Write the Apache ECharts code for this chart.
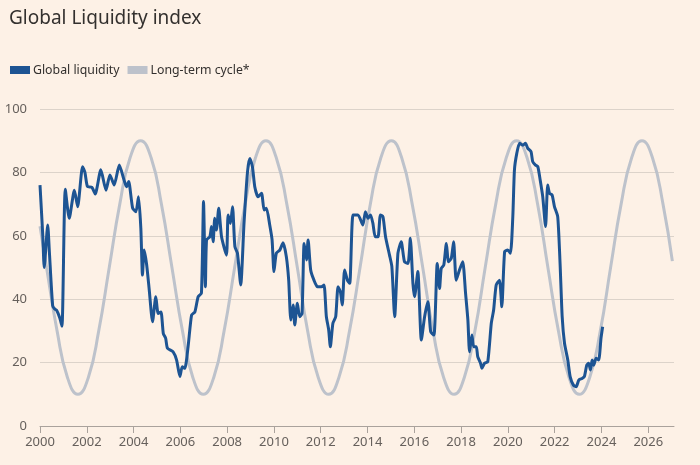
<!DOCTYPE html>
<html>
<head>
<meta charset="utf-8">
<script src="https://cdn.jsdelivr.net/npm/echarts@6/dist/echarts.min.js"></script>
<style>
html,body{margin:0;padding:0;background:#fdf1e6;}
#chart{width:700px;height:465px;}
</style>
</head>
<body>
<div id="chart"></div>
<script>
// ---- Data ----
const title = "Global Liquidity index";
const seriesNames = ["Global liquidity", "Long-term cycle*"];
const xTickYears = [2000, 2002, 2004, 2006, 2008, 2010, 2012, 2014, 2016, 2018, 2020, 2022, 2024, 2026];
const yTicks = [0, 20, 40, 60, 80, 100];

const liquidityYears = [
  2000.00, 2000.12, 2000.18, 2000.33, 2000.40, 2000.54, 2000.62, 2000.71, 2000.85, 2000.94,
  2001.08, 2001.25, 2001.47, 2001.61, 2001.82, 2001.92, 2002.03, 2002.22, 2002.36, 2002.60,
  2002.82, 2002.99, 2003.17, 2003.39, 2003.60, 2003.70, 2003.79, 2003.96, 2004.10, 2004.21,
  2004.31, 2004.38, 2004.45, 2004.56, 2004.67, 2004.81, 2004.95, 2005.05, 2005.17, 2005.27,
  2005.37, 2005.45, 2005.69, 2005.84, 2005.98, 2006.08, 2006.19, 2006.33, 2006.48, 2006.62,
  2006.76, 2006.90, 2006.99, 2007.07, 2007.12, 2007.26, 2007.33, 2007.40, 2007.47, 2007.54,
  2007.64, 2007.76, 2007.97, 2008.04, 2008.14, 2008.23, 2008.33, 2008.44, 2008.58, 2008.72,
  2008.87, 2008.97, 2009.08, 2009.18, 2009.32, 2009.47, 2009.58, 2009.68, 2009.82, 2009.92,
  2010.00, 2010.10, 2010.25, 2010.39, 2010.53, 2010.63, 2010.72, 2010.82, 2010.89, 2011.00,
  2011.10, 2011.20, 2011.29, 2011.39, 2011.46, 2011.57, 2011.71, 2011.86, 2012.03, 2012.14,
  2012.24, 2012.34, 2012.41, 2012.52, 2012.64, 2012.74, 2012.84, 2012.92, 2013.02, 2013.14,
  2013.24, 2013.38, 2013.59, 2013.80, 2013.91, 2014.02, 2014.13, 2014.23, 2014.33, 2014.45,
  2014.55, 2014.66, 2014.77, 2014.94, 2015.04, 2015.16, 2015.30, 2015.44, 2015.58, 2015.73,
  2015.83, 2015.94, 2016.01, 2016.15, 2016.30, 2016.44, 2016.58, 2016.70, 2016.84, 2016.98,
  2017.08, 2017.15, 2017.26, 2017.37, 2017.46, 2017.58, 2017.68, 2017.79, 2017.93, 2018.07,
  2018.19, 2018.29, 2018.36, 2018.46, 2018.54, 2018.65, 2018.71, 2018.83, 2018.89, 2019.00,
  2019.14, 2019.29, 2019.39, 2019.50, 2019.64, 2019.74, 2019.86, 2019.99, 2020.11, 2020.21,
  2020.28, 2020.38, 2020.50, 2020.64, 2020.75, 2020.85, 2020.99, 2021.06, 2021.18, 2021.28,
  2021.38, 2021.49, 2021.61, 2021.70, 2021.78, 2021.89, 2021.99, 2022.13, 2022.23, 2022.32,
  2022.42, 2022.56, 2022.66, 2022.80, 2022.92, 2023.03, 2023.17, 2023.27, 2023.37, 2023.45,
  2023.53, 2023.60, 2023.67, 2023.77, 2023.88, 2023.98, 2024.05
];
const liquidityValues = [
  76, 60, 50, 63.4, 55, 38, 37, 36.5, 34, 31.5,
  74.7, 65.5, 74.4, 69.2, 81.8, 80, 75.5, 75.3, 73.2, 80.8,
  74.4, 79.2, 76, 82.3, 77.4, 75.5, 77.1, 68.7, 67.6, 72.3,
  62.4, 47.6, 55.5, 50.8, 42.9, 32.9, 40.8, 35.5, 36, 29.2,
  27.7, 24.5, 23.4, 20.8, 15.6, 18.7, 18.2, 25, 35, 36,
  40.8, 41.9, 70.8, 43.9, 58.7, 59.7, 62.9, 58.1, 65.5, 61.8,
  68.7, 59.7, 53.9, 66.6, 63.9, 69.2, 56.6, 54.5, 44.5, 63.9,
  80.2, 84.4, 81.8, 75.5, 72.3, 73.4, 68.1, 68.7, 63.4, 58.7,
  48.7, 54.5, 55.5, 57.8, 53.4, 46, 33.4, 38.2, 31.9, 38.7,
  34.5, 35.5, 57.6, 52.4, 58.7, 49.2, 46, 43.9, 43.9, 44.5,
  34.5, 30.3, 25, 32.4, 34.5, 43.9, 42.4, 38.2, 49.2, 46,
  45, 66.6, 66.6, 63.4, 67.6, 65.5, 66.6, 63.9, 59.7, 59.7,
  66.6, 66, 59.7, 53.9, 50.3, 34.5, 54.5, 58.1, 51.8, 51.3,
  59.2, 45, 40.8, 48.7, 27.1, 34.5, 39.2, 29.7, 28.7, 51.3,
  43.4, 49.7, 50.8, 57.6, 51.8, 52.9, 58.1, 46, 49.2, 51.8,
  41.9, 33.4, 23.4, 28.7, 25, 25, 21.9, 19.8, 18.2, 19.8,
  20.3, 32.4, 36.6, 44.5, 46, 37.6, 55, 55.5, 54.5, 66,
  80.8, 86, 89.2, 88.6, 89.2, 87.6, 86.5, 83.4, 82.3, 81.8,
  77.6, 72.3, 62.9, 76, 73.4, 72.9, 69.2, 66, 51.3, 34.5,
  26.1, 20.8, 15.6, 12.9, 12.4, 14.5, 15, 15.6, 19.2, 19.8,
  17.7, 20.8, 19.2, 21.4, 20.8, 27.7, 31.3
];

const cycleYears = [
  2000.00, 2000.28, 2000.73, 2001.17, 2001.62, 2002.07, 2002.51, 2002.96, 2003.41, 2003.85,
  2004.30, 2004.75, 2005.19, 2005.64, 2006.09, 2006.53, 2006.98, 2007.43, 2007.87, 2008.32,
  2008.77, 2009.21, 2009.66, 2010.10, 2010.55, 2011.00, 2011.44, 2011.89, 2012.34, 2012.78,
  2013.23, 2013.68, 2014.12, 2014.57, 2015.02, 2015.46, 2015.91, 2016.36, 2016.80, 2017.25,
  2017.70, 2018.14, 2018.59, 2019.03, 2019.48, 2019.93, 2020.37, 2020.82, 2021.27, 2021.71,
  2022.16, 2022.61, 2023.05, 2023.50, 2023.95, 2024.39, 2024.84, 2025.29, 2025.73, 2026.18,
  2026.63, 2027.03
];
const cycleValues = [
  63, 50, 30, 15.4, 10, 15.4, 30, 50, 70, 84.6,
  90, 84.6, 70, 50, 30, 15.4, 10, 15.4, 30, 50,
  70, 84.6, 90, 84.6, 70, 50, 30, 15.4, 10, 15.4,
  30, 50, 70, 84.6, 90, 84.6, 70, 50, 30, 15.4,
  10, 15.4, 30, 50, 70, 84.6, 90, 84.6, 70, 50,
  30, 15.4, 10, 15.4, 30, 50, 70, 84.6, 90, 84.6,
  70, 52
];

// ---- Styling ----
const BG = '#fdf1e6';
const BLUE = '#1d5493';
const GREY = '#bdc2cb';
const TEXT = '#66605c';
const FONT = '"Noto Sans", sans-serif';

const liqData = liquidityYears.map((x, i) => [x, liquidityValues[i]]);
const cycData = cycleYears.map((x, i) => [x, cycleValues[i]]);

const chart = echarts.init(document.getElementById('chart'), null, {renderer: 'canvas'});
chart.setOption({
  backgroundColor: BG,
  animation: false,
  title: {
    text: title,
    left: 4, top: 4,
    textStyle: {fontFamily: FONT, fontSize: 19, fontWeight: 'normal', color: '#33302e'}
  },
  legend: {
    data: seriesNames,
    left: 5, top: 59,
    icon: 'rect',
    itemWidth: 20, itemHeight: 8,
    itemGap: 8,
    textStyle: {fontFamily: FONT, fontSize: 12.3, color: '#33302e', padding: [0, 0, 0, -2]}
  },
  grid: {left: 40, right: 26, top: 109, bottom: 39, containLabel: false},
  xAxis: {
    type: 'value',
    min: 2000, max: 2027.1,
    interval: 2,
    axisLine: {show: true, lineStyle: {color: '#aaa29c', width: 1}},
    axisTick: {show: true, length: 7, lineStyle: {color: '#aaa29c'}, customValues: xTickYears},
    axisLabel: {fontFamily: FONT, fontSize: 13, color: TEXT, margin: 10, customValues: xTickYears,
      formatter: v => String(v)},
    splitLine: {show: false}
  },
  yAxis: {
    type: 'value',
    min: 0, max: 100, interval: 20,
    axisLine: {show: false},
    axisTick: {show: false},
    axisLabel: {fontFamily: FONT, fontSize: 13, color: TEXT, margin: 13},
    splitLine: {show: true, lineStyle: {color: '#dcd3ca', width: 1}}
  },
  series: [
    {
      name: seriesNames[1],
      type: 'line',
      data: cycData,
      smooth: 0.5,
      showSymbol: false,
      z: 2,
      lineStyle: {color: GREY, width: 3},
      itemStyle: {color: GREY}
    },
    {
      name: seriesNames[0],
      type: 'line',
      data: liqData,
      smooth: 0.2,
      showSymbol: false,
      z: 3,
      lineStyle: {color: BLUE, width: 3},
      itemStyle: {color: BLUE}
    }
  ]
});
</script>
</body>
</html>
